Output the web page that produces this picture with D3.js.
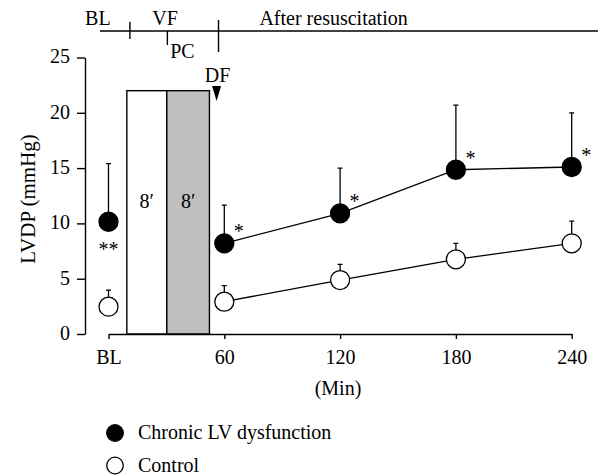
<!DOCTYPE html>
<html>
<head>
<meta charset="utf-8">
<script src="https://cdn.jsdelivr.net/npm/d3@7"></script>
<style>
    body { margin: 0; background: #fff; }
    svg text { font-family: 'Liberation Serif', 'DejaVu Serif', serif; }
</style>
</head>
<body>
<svg id="chart" width="600" height="475"></svg>
<script>
// time points (min) and values
const timePoints = [0, 60, 120, 180, 240];
const tickLabels = ['BL', '60', '120', '180', '240'];
const chronicMean = [10.15, 8.2, 10.9, 14.85, 15.1];
const chronicSD = [5.25, 3.45, 4.1, 5.85, 4.9];
const chronicStars = ['**', '*', '*', '*', '*'];
const controlMean = [2.47, 2.92, 4.88, 6.75, 8.2];
const controlSD = [1.5, 1.45, 1.42, 1.45, 2.0];
const yTicks = [0, 5, 10, 15, 20, 25];

// VF / PC periods shown as bars
const barStarts = [9.5, 30.2];
const barEnds = [30.2, 52.3];
const barHeights = [22, 22];
const barLabels = ['8\u2032', '8\u2032'];
const barFills = ['#ffffff', '#bfbfbf'];

// protocol timeline on top
const phaseLabels = ['BL', 'VF', 'PC', 'After resuscitation'];
const phaseTicks = [11.1, 30.5, 57];

const legendLabels = ['Chronic LV dysfunction', 'Control'];

(function() {
    'use strict';

    let svg = d3.select('#chart');
    let fontSize = 20;
    let serif = '\'Liberation Serif\', \'DejaVu Serif\', serif';

    let x = d3.scaleLinear().domain([0, 240]).range([108.5, 571.7]);
    let y = d3.scaleLinear().domain([0, 25]).range([334, 57.5]);

    // bars
    let bars = svg.append('g');
    bars.selectAll('rect')
        .data(barStarts)
        .enter().append('rect')
        .attr('x', function(d) { return x(d); })
        .attr('y', function(d, i) { return y(barHeights[i]); })
        .attr('width', function(d, i) { return x(barEnds[i]) - x(d); })
        .attr('height', function(d, i) { return y(0) - y(barHeights[i]); })
        .style('fill', function(d, i) { return barFills[i]; })
        .style('stroke', '#000')
        .style('stroke-width', 1.4);

    bars.selectAll('text')
        .data(barLabels)
        .enter().append('text')
        .attr('x', function(d, i) { return (x(barStarts[i]) + x(barEnds[i])) / 2; })
        .attr('y', 208)
        .attr('text-anchor', 'middle')
        .style('font-size', fontSize + 'px')
        .text(function(d) { return d; });

    // axes
    let xAxis = svg.append('g')
        .attr('transform', 'translate(0,' + y(0) + ')')
        .call(d3.axisBottom(x)
            .tickValues(timePoints)
            .tickFormat(function(d, i) { return tickLabels[i]; })
            .tickSize(5)
            .tickSizeOuter(0)
            .tickPadding(10.5));

    let yAxis = svg.append('g')
        .attr('transform', 'translate(85,0)')
        .call(d3.axisLeft(y)
            .tickValues(yTicks)
            .tickSize(8)
            .tickSizeOuter(0)
            .tickPadding(7));

    [xAxis, yAxis].forEach(function(a) {
        a.attr('font-family', null).attr('font-size', null);
        a.selectAll('path, line').style('stroke', '#000').style('stroke-width', 1.4);
        a.selectAll('text')
            .style('font-family', serif)
            .style('font-size', fontSize + 'px')
            .attr('fill', '#000');
    });
    yAxis.selectAll('text').attr('dy', '0.27em');

    svg.append('text')
        .attr('transform', 'translate(35,199) rotate(-90)')
        .attr('text-anchor', 'middle')
        .style('font-size', '21px')
        .text('LVDP (mmHg)');

    svg.append('text')
        .attr('x', 338)
        .attr('y', 395)
        .attr('text-anchor', 'middle')
        .style('font-size', fontSize + 'px')
        .text('(Min)');

    // series
    let line = d3.line()
        .x(function(d) { return x(d[0]); })
        .y(function(d) { return y(d[1]); });

    let drawSeries = function(means, sds, fill) {
        let g = svg.append('g');
        let pts = timePoints.map(function(t, i) { return [t, means[i], sds[i]]; });

        g.append('path')
            .datum(pts.slice(1))
            .attr('d', line)
            .style('fill', 'none')
            .style('stroke', '#000')
            .style('stroke-width', 1.3);

        g.selectAll('.err')
            .data(pts)
            .enter().append('path')
            .attr('class', 'err')
            .attr('d', function(d) {
                let cx = x(d[0]);
                let top = y(d[1] + d[2]);
                return 'M' + cx + ',' + y(d[1]) + 'V' + top +
                    'M' + (cx - 2.5) + ',' + top + 'H' + (cx + 2.5);
            })
            .style('fill', 'none')
            .style('stroke', '#000')
            .style('stroke-width', 1.3);

        g.selectAll('circle')
            .data(pts)
            .enter().append('circle')
            .attr('cx', function(d) { return x(d[0]); })
            .attr('cy', function(d) { return y(d[1]); })
            .attr('r', 9.5)
            .style('fill', fill)
            .style('stroke', '#000')
            .style('stroke-width', 1.3);
        return g;
    };

    drawSeries(controlMean, controlSD, '#fff');
    let chronic = drawSeries(chronicMean, chronicSD, '#000');

    chronic.selectAll('.star')
        .data(chronicStars)
        .enter().append('text')
        .attr('class', 'star')
        .attr('x', function(d, i) { return i === 0 ? x(timePoints[i]) : x(timePoints[i]) + 9.5; })
        .attr('y', function(d, i) {
            return i === 0 ? y(chronicMean[i]) + 34 : y(chronicMean[i]) - 5;
        })
        .attr('text-anchor', function(d, i) { return i === 0 ? 'middle' : 'start'; })
        .style('font-size', fontSize + 'px')
        .text(function(d) { return d; });

    // protocol timeline
    let tl = svg.append('g')
        .style('stroke', '#000')
        .style('stroke-width', 1.4);
    tl.append('line')
        .attr('x1', 100).attr('x2', 598)
        .attr('y1', 31).attr('y2', 31);
    let tickY = [[21.7, 39], [31, 45], [20, 52]];
    tl.selectAll('.tk')
        .data(phaseTicks)
        .enter().append('line')
        .attr('class', 'tk')
        .attr('x1', function(d) { return x(d); })
        .attr('x2', function(d) { return x(d); })
        .attr('y1', function(d, i) { return tickY[i][0]; })
        .attr('y2', function(d, i) { return tickY[i][1]; });

    let labelX = [-5.5, 29.3, 32, 78.2];
    let labelY = [25, 25, 58, 25];
    let labelAnchor = ['middle', 'middle', 'start', 'start'];
    svg.append('g').selectAll('text')
        .data(phaseLabels)
        .enter().append('text')
        .attr('x', function(d, i) { return x(labelX[i]); })
        .attr('y', function(d, i) { return labelY[i]; })
        .attr('text-anchor', function(d, i) { return labelAnchor[i]; })
        .style('font-size', fontSize + 'px')
        .text(function(d) { return d; });

    // defibrillation marker
    svg.append('text')
        .attr('x', x(56.5))
        .attr('y', 81.5)
        .attr('text-anchor', 'middle')
        .style('font-size', fontSize + 'px')
        .text('DF');
    let dfx = x(56);
    svg.append('path')
        .attr('d', 'M' + (dfx - 4.5) + ',86L' + (dfx + 4.5) + ',86L' + dfx + ',101Z')
        .style('fill', '#000');

    // legend
    let legend = svg.append('g').selectAll('g')
        .data(legendLabels)
        .enter().append('g')
        .attr('transform', function(d, i) { return 'translate(115,' + (433 + i * 32.5) + ')'; });
    legend.append('circle')
        .attr('r', 8.3)
        .style('fill', function(d, i) { return i === 0 ? '#000' : '#fff'; })
        .style('stroke', '#000')
        .style('stroke-width', 1.3);
    legend.append('text')
        .attr('x', 23)
        .attr('y', 6.3)
        .style('font-size', fontSize + 'px')
        .text(function(d) { return d; });
})();
</script>
</body>
</html>
